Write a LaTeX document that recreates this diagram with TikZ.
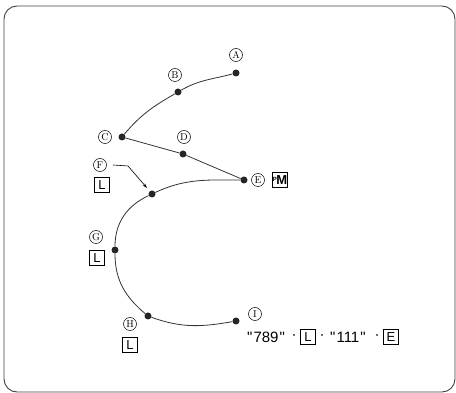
\documentclass[tikz,border=0pt]{standalone}
\usepackage{fontspec}
\newfontfamily\keyfont{Liberation Sans}
\usetikzlibrary{arrows.meta}
\begin{document}
\begin{tikzpicture}[x=1pt,y=-1pt,
  pt/.style={circle,fill=black!85,inner sep=0pt,minimum size=7pt},
  lab/.style={circle,draw,line width=0.5pt,inner sep=0pt,minimum size=13pt,font=\fontsize{10}{10}\selectfont},
  keybox/.style={draw,line width=0.8pt,inner sep=0pt,minimum width=15pt,minimum height=15pt,font=\fontsize{13}{13}\keyfont},
  curve/.style={line width=0.8pt,black!80},
  txt/.style={inner sep=0pt,font=\fontsize{15}{15}\keyfont}]
\useasboundingbox (0,0) rectangle (456,393);
\draw[line width=0.9pt,black!75,rounded corners=13pt] (4,6) rectangle (455,392);
% points
\node[pt] (A) at (236,73) {};
\node[pt] (B) at (178,92) {};
\node[pt] (C) at (122,137) {};
\node[pt] (D) at (183,154) {};
\node[pt] (E) at (244,180) {};
\node[pt] (F) at (152,194) {};
\node[pt] (G) at (115,250) {};
\node[pt] (H) at (148,316) {};
\node[pt] (I) at (236,321) {};
% labels
\node[lab] (la) at (236,55) {A};
\node[lab] (lb) at (175,75) {B};
\node[lab] (lc) at (105,137) {C};
\node[lab] (ld) at (184,137) {D};
\node[lab] (le) at (258,180) {E};
\node[lab] (lf) at (100,165) {F};
\node[lab] (lg) at (96,237) {G};
\node[lab] (lh) at (130,324) {H};
\node[lab] (li) at (255,314) {I};
% keys
\node[keybox] (km) at (280,180) {\raisebox{3pt}{\fontsize{6}{6}\selectfont\bfseries P}\kern-0.5pt\bfseries M};
\node[keybox] (kf) at (102,185) {L};
\node[keybox] (kg) at (97,258) {L};
\node[keybox] (kh) at (130,345) {L};
% bottom text
\node[txt,anchor=west] (t1) at (247,337) {"\kern1pt789\kern1pt"};
\node[txt] (d1) at (294,337) {·};
\node[keybox] (kl) at (308,337) {L};
\node[txt] (d2) at (322,337) {·};
\node[txt,anchor=west] (t2) at (330,337) {"\kern1pt111\kern1pt"};
\node[txt] (d3) at (377,337) {·};
\node[keybox] (ke) at (391,337) {E};
% curves
\draw[curve] (A) to[out=195,in=30] (B) to[out=210,in=50] (C);
\draw[curve] (C) -- (D) -- (E);
\draw[curve] (E) to[out=180,in=25] (F) to[out=205,in=90] (G) to[out=270,in=140] (H) to[out=-20,in=190] (I);
% arrow
\coordinate (a0) at (113,165);
\coordinate (a1) at (128,166);
\coordinate (a2) at (147,188);
\draw[line width=0.6pt,-{Stealth[length=5pt,width=3pt]}] (a0) -- (a1) -- (a2);
\end{tikzpicture}
\end{document}
